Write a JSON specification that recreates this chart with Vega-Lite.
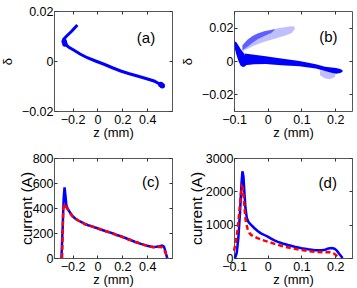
{
  "$schema": "https://vega.github.io/schema/vega-lite/v6.json",
  "padding": {"left": 0, "top": 4, "right": 0, "bottom": 0},
  "background": "white",
  "config": {
    "font": "Liberation Sans",
    "view": {"stroke": "#555", "strokeWidth": 1},
    "axis": {"domain": false, "grid": false, "tickColor": "#333", "tickSize": -3, "tickWidth": 1, "labelFontSize": 12.5, "labelColor": "#000", "titleColor": "#000", "titleFontWeight": "normal", "labelFlush": false, "labelOverlap": false},
    "axisX": {"labelPadding": 5, "titleFontSize": 13, "titlePadding": 1},
    "axisY": {"labelPadding": 4, "titleFontSize": 15.5, "titlePadding": 3},
    "text": {"font": "Liberation Sans"}
  },
  "columns": 2,
  "spacing": {"row": 47, "column": 62},
  "bounds": "flush",
  "datasets": {
    "a_line": [
      {"i": 0, "z": -0.162, "delta": 0.0144},
      {"i": 1, "z": -0.21, "delta": 0.0118},
      {"i": 2, "z": -0.25, "delta": 0.0099},
      {"i": 3, "z": -0.272, "delta": 0.0087},
      {"i": 4, "z": -0.27, "delta": 0.0075},
      {"i": 5, "z": -0.255, "delta": 0.0065},
      {"i": 6, "z": -0.23, "delta": 0.0055},
      {"i": 7, "z": -0.189, "delta": 0.0043},
      {"i": 8, "z": -0.14, "delta": 0.0028},
      {"i": 9, "z": -0.082, "delta": 0.0013},
      {"i": 10, "z": -0.016, "delta": 0.0},
      {"i": 11, "z": 0.053, "delta": -0.0013},
      {"i": 12, "z": 0.12, "delta": -0.0027},
      {"i": 13, "z": 0.187, "delta": -0.004},
      {"i": 14, "z": 0.25, "delta": -0.005},
      {"i": 15, "z": 0.321, "delta": -0.006},
      {"i": 16, "z": 0.39, "delta": -0.007},
      {"i": 17, "z": 0.455, "delta": -0.008},
      {"i": 18, "z": 0.5, "delta": -0.0092},
      {"i": 19, "z": 0.522, "delta": -0.01}
    ],
    "a_blob": [
      {"z": 0.522, "delta": -0.0099},
      {"z": 0.51, "delta": -0.0094},
      {"z": -0.268, "delta": 0.0078},
      {"z": -0.262, "delta": 0.0068}
    ],
    "b_arm": [
      {"z": -0.075, "top": 0.0095, "bot": 0.006},
      {"z": -0.06, "top": 0.0128, "bot": 0.0072},
      {"z": -0.045, "top": 0.015, "bot": 0.0088},
      {"z": -0.03, "top": 0.0165, "bot": 0.01},
      {"z": -0.01, "top": 0.0178, "bot": 0.0115},
      {"z": 0.01, "top": 0.0188, "bot": 0.0128},
      {"z": 0.03, "top": 0.0196, "bot": 0.014},
      {"z": 0.05, "top": 0.0203, "bot": 0.0152},
      {"z": 0.07, "top": 0.0208, "bot": 0.0166},
      {"z": 0.08, "top": 0.0205, "bot": 0.019}
    ],
    "b_armcore": [
      {"z": -0.075, "top": 0.0095, "bot": 0.0065},
      {"z": -0.06, "top": 0.0128, "bot": 0.0085},
      {"z": -0.045, "top": 0.015, "bot": 0.011},
      {"z": -0.03, "top": 0.0165, "bot": 0.013},
      {"z": -0.01, "top": 0.0178, "bot": 0.015},
      {"z": 0.01, "top": 0.0186, "bot": 0.0168},
      {"z": 0.02, "top": 0.019, "bot": 0.0184}
    ],
    "b_band": [
      {"z": -0.068, "top": 0.0045, "bot": -0.0025},
      {"z": -0.04, "top": 0.0038, "bot": -0.002},
      {"z": -0.006, "top": 0.0028, "bot": -0.0018},
      {"z": 0.04, "top": 0.0015, "bot": -0.0025},
      {"z": 0.094, "top": 0.0, "bot": -0.0032},
      {"z": 0.143, "top": -0.002, "bot": -0.0045},
      {"z": 0.17, "top": -0.0035, "bot": -0.006},
      {"z": 0.183, "top": -0.0038, "bot": -0.0068},
      {"z": 0.203, "top": -0.0042, "bot": -0.0076},
      {"z": 0.215, "top": -0.0048, "bot": -0.0072},
      {"z": 0.222, "top": -0.0055, "bot": -0.0065}
    ],
    "b_leftblob": [
      {"delta": 0.0115, "z1": -0.0975, "z2": -0.094},
      {"delta": 0.0095, "z1": -0.098, "z2": -0.087},
      {"delta": 0.007, "z1": -0.097, "z2": -0.08},
      {"delta": 0.0045, "z1": -0.094, "z2": -0.07},
      {"delta": 0.002, "z1": -0.09, "z2": -0.064},
      {"delta": -0.0005, "z1": -0.086, "z2": -0.062},
      {"delta": -0.0025, "z1": -0.081, "z2": -0.064},
      {"delta": -0.0035, "z1": -0.076, "z2": -0.069}
    ],
    "b_sparse": [
      {"z": 0.155, "top": -0.0055, "bot": -0.0085},
      {"z": 0.17, "top": -0.006, "bot": -0.0105},
      {"z": 0.185, "top": -0.0065, "bot": -0.011},
      {"z": 0.2, "top": -0.007, "bot": -0.0095}
    ],
    "c_blue": [
      {"z": -0.29, "current": 0}, {"z": -0.28, "current": 250}, {"z": -0.272, "current": 480},
      {"z": -0.265, "current": 565}, {"z": -0.258, "current": 500}, {"z": -0.25, "current": 420},
      {"z": -0.24, "current": 395}, {"z": -0.225, "current": 370}, {"z": -0.2, "current": 335},
      {"z": -0.175, "current": 312}, {"z": -0.15, "current": 298}, {"z": -0.125, "current": 285},
      {"z": -0.1, "current": 272}, {"z": -0.075, "current": 262}, {"z": -0.05, "current": 255},
      {"z": -0.025, "current": 246}, {"z": 0, "current": 238}, {"z": 0.025, "current": 228},
      {"z": 0.05, "current": 220}, {"z": 0.075, "current": 212}, {"z": 0.1, "current": 205},
      {"z": 0.125, "current": 196}, {"z": 0.15, "current": 186}, {"z": 0.175, "current": 178},
      {"z": 0.2, "current": 170}, {"z": 0.225, "current": 160}, {"z": 0.25, "current": 150},
      {"z": 0.275, "current": 140}, {"z": 0.3, "current": 130}, {"z": 0.325, "current": 122},
      {"z": 0.35, "current": 113}, {"z": 0.375, "current": 105}, {"z": 0.4, "current": 98},
      {"z": 0.425, "current": 92}, {"z": 0.45, "current": 88}, {"z": 0.475, "current": 90},
      {"z": 0.5, "current": 95}, {"z": 0.52, "current": 100}, {"z": 0.535, "current": 92},
      {"z": 0.545, "current": 60}, {"z": 0.555, "current": 20}, {"z": 0.562, "current": 0}
    ],
    "c_red": [
      {"z": -0.285, "current": 0}, {"z": -0.28, "current": 200}, {"z": -0.276, "current": 400},
      {"z": -0.268, "current": 415}, {"z": -0.258, "current": 392}, {"z": -0.25, "current": 405},
      {"z": -0.24, "current": 390}, {"z": -0.225, "current": 365}, {"z": -0.2, "current": 332},
      {"z": -0.175, "current": 314}, {"z": -0.15, "current": 296}, {"z": -0.125, "current": 287},
      {"z": -0.1, "current": 270}, {"z": -0.075, "current": 264}, {"z": -0.05, "current": 253},
      {"z": -0.025, "current": 247}, {"z": 0, "current": 236}, {"z": 0.025, "current": 230},
      {"z": 0.05, "current": 218}, {"z": 0.075, "current": 213}, {"z": 0.1, "current": 203},
      {"z": 0.125, "current": 197}, {"z": 0.15, "current": 184}, {"z": 0.175, "current": 179},
      {"z": 0.2, "current": 168}, {"z": 0.225, "current": 161}, {"z": 0.25, "current": 148},
      {"z": 0.275, "current": 141}, {"z": 0.3, "current": 128}, {"z": 0.325, "current": 123},
      {"z": 0.35, "current": 111}, {"z": 0.375, "current": 106}, {"z": 0.4, "current": 96},
      {"z": 0.425, "current": 92}, {"z": 0.45, "current": 87}, {"z": 0.475, "current": 88},
      {"z": 0.5, "current": 89}, {"z": 0.52, "current": 85}, {"z": 0.535, "current": 70},
      {"z": 0.55, "current": 35}, {"z": 0.565, "current": 0}
    ],
    "d_blue": [
      {"z": -0.097, "current": 0}, {"z": -0.092, "current": 150}, {"z": -0.087, "current": 600},
      {"z": -0.082, "current": 1400}, {"z": -0.078, "current": 2200}, {"z": -0.075, "current": 2600},
      {"z": -0.072, "current": 2450}, {"z": -0.069, "current": 1950}, {"z": -0.066, "current": 1500},
      {"z": -0.062, "current": 1200}, {"z": -0.057, "current": 1080}, {"z": -0.05, "current": 1000},
      {"z": -0.04, "current": 900}, {"z": -0.03, "current": 810}, {"z": -0.02, "current": 740},
      {"z": -0.01, "current": 690}, {"z": 0, "current": 640}, {"z": 0.01, "current": 580},
      {"z": 0.02, "current": 530}, {"z": 0.03, "current": 485}, {"z": 0.044, "current": 435},
      {"z": 0.06, "current": 390}, {"z": 0.08, "current": 340}, {"z": 0.1, "current": 295},
      {"z": 0.12, "current": 260}, {"z": 0.14, "current": 235}, {"z": 0.16, "current": 232},
      {"z": 0.17, "current": 250}, {"z": 0.18, "current": 285}, {"z": 0.19, "current": 300},
      {"z": 0.198, "current": 280}, {"z": 0.205, "current": 220}, {"z": 0.212, "current": 130},
      {"z": 0.218, "current": 50}, {"z": 0.222, "current": 0}
    ],
    "d_red": [
      {"z": -0.1, "current": 220}, {"z": -0.095, "current": 450}, {"z": -0.09, "current": 800},
      {"z": -0.085, "current": 1300}, {"z": -0.08, "current": 1850}, {"z": -0.077, "current": 2150},
      {"z": -0.074, "current": 2100}, {"z": -0.071, "current": 1800}, {"z": -0.068, "current": 1400},
      {"z": -0.065, "current": 1100}, {"z": -0.06, "current": 880}, {"z": -0.055, "current": 760},
      {"z": -0.05, "current": 700}, {"z": -0.04, "current": 640}, {"z": -0.03, "current": 595},
      {"z": -0.02, "current": 555}, {"z": -0.01, "current": 520}, {"z": 0, "current": 490},
      {"z": 0.02, "current": 425}, {"z": 0.044, "current": 355}, {"z": 0.07, "current": 295},
      {"z": 0.094, "current": 250}, {"z": 0.12, "current": 210}, {"z": 0.143, "current": 185},
      {"z": 0.165, "current": 175}, {"z": 0.183, "current": 175}, {"z": 0.195, "current": 140},
      {"z": 0.203, "current": 80}, {"z": 0.21, "current": 20}, {"z": 0.213, "current": 0}
    ]
  },
  "concat": [
    {
      "width": 118, "height": 100,
      "layer": [
        {
          "data": {"name": "a_line"},
          "mark": {"type": "line", "color": "#0000ff", "strokeWidth": 3},
          "encoding": {
            "x": {"field": "z", "type": "quantitative", "scale": {"domain": [-0.35, 0.6], "nice": false, "zero": false}, "axis": {"orient": "bottom", "values": [-0.2, 0, 0.2, 0.4], "format": ".2~f", "title": "z (mm)"}},
            "y": {"field": "delta", "type": "quantitative", "scale": {"domain": [-0.02, 0.02], "nice": false, "zero": false}, "axis": {"orient": "left", "values": [-0.02, 0, 0.02], "format": ".2~f", "title": "δ", "titleFontSize": 13, "titlePadding": 7}},
            "order": {"field": "i"}
          }
        },
        {
          "data": {"name": "a_blob"},
          "mark": {"type": "circle", "color": "#0000ff", "opacity": 1, "size": 30},
          "encoding": {
            "x": {"field": "z", "type": "quantitative", "scale": {"domain": [-0.35, 0.6], "nice": false, "zero": false}, "axis": null},
            "y": {"field": "delta", "type": "quantitative", "scale": {"domain": [-0.02, 0.02], "nice": false, "zero": false}, "axis": null}
          }
        },
        {
          "data": {"values": [{"z": 0.391, "delta": 0.0093, "t": "(a)"}]},
          "mark": {"type": "text", "fontSize": 15, "color": "#000"},
          "encoding": {
            "x": {"field": "z", "type": "quantitative", "scale": {"domain": [-0.35, 0.6], "nice": false, "zero": false}, "axis": {"orient": "top", "values": [-0.2, 0, 0.2, 0.4], "labels": false, "title": null}},
            "y": {"field": "delta", "type": "quantitative", "scale": {"domain": [-0.02, 0.02], "nice": false, "zero": false}, "axis": {"orient": "right", "values": [-0.02, 0, 0.02], "labels": false, "title": null}},
            "text": {"field": "t"}
          }
        }
      ],
      "resolve": {"axis": {"x": "independent", "y": "independent"}}
    },
    {
      "width": 118, "height": 100,
      "layer": [
        {
          "data": {"name": "b_arm"},
          "mark": {"type": "area", "color": "#0000ff", "opacity": 0.25},
          "encoding": {
            "x": {"field": "z", "type": "quantitative", "scale": {"domain": [-0.1, 0.25], "nice": false, "zero": false}, "axis": {"orient": "bottom", "values": [-0.1, 0, 0.1, 0.2], "format": ".2~f", "title": "z (mm)"}},
            "y": {"field": "top", "type": "quantitative", "scale": {"domain": [-0.03, 0.03], "nice": false, "zero": false}, "axis": {"orient": "left", "values": [-0.02, 0, 0.02], "format": ".2~f", "title": "δ", "titleFontSize": 13, "titlePadding": 7}},
            "y2": {"field": "bot"}
          }
        },
        {
          "data": {"name": "b_armcore"},
          "mark": {"type": "area", "color": "#0000ff", "opacity": 0.5},
          "encoding": {
            "x": {"field": "z", "type": "quantitative", "scale": {"domain": [-0.1, 0.25], "nice": false, "zero": false}, "axis": null},
            "y": {"field": "top", "type": "quantitative", "scale": {"domain": [-0.03, 0.03], "nice": false, "zero": false}, "axis": null},
            "y2": {"field": "bot"}
          }
        },
        {
          "data": {"name": "b_sparse"},
          "mark": {"type": "area", "color": "#0000ff", "opacity": 0.25},
          "encoding": {
            "x": {"field": "z", "type": "quantitative", "scale": {"domain": [-0.1, 0.25], "nice": false, "zero": false}, "axis": null},
            "y": {"field": "top", "type": "quantitative", "scale": {"domain": [-0.03, 0.03], "nice": false, "zero": false}, "axis": null},
            "y2": {"field": "bot"}
          }
        },
        {
          "data": {"name": "b_band"},
          "mark": {"type": "area", "color": "#0000ff", "opacity": 1},
          "encoding": {
            "x": {"field": "z", "type": "quantitative", "scale": {"domain": [-0.1, 0.25], "nice": false, "zero": false}, "axis": null},
            "y": {"field": "top", "type": "quantitative", "scale": {"domain": [-0.03, 0.03], "nice": false, "zero": false}, "axis": null},
            "y2": {"field": "bot"}
          }
        },
        {
          "data": {"name": "b_leftblob"},
          "mark": {"type": "area", "orient": "horizontal", "color": "#0000ff", "opacity": 1},
          "encoding": {
            "x": {"field": "z1", "type": "quantitative", "scale": {"domain": [-0.1, 0.25], "nice": false, "zero": false}, "axis": null},
            "x2": {"field": "z2"},
            "y": {"field": "delta", "type": "quantitative", "scale": {"domain": [-0.03, 0.03], "nice": false, "zero": false}, "axis": null}
          }
        },
        {
          "data": {"values": [{"z": 0.18, "delta": 0.0144, "t": "(b)"}]},
          "mark": {"type": "text", "fontSize": 15, "color": "#000"},
          "encoding": {
            "x": {"field": "z", "type": "quantitative", "scale": {"domain": [-0.1, 0.25], "nice": false, "zero": false}, "axis": {"orient": "top", "values": [-0.1, 0, 0.1, 0.2], "labels": false, "title": null}},
            "y": {"field": "delta", "type": "quantitative", "scale": {"domain": [-0.03, 0.03], "nice": false, "zero": false}, "axis": {"orient": "right", "values": [-0.02, 0, 0.02], "labels": false, "title": null}},
            "text": {"field": "t"}
          }
        }
      ],
      "resolve": {"axis": {"x": "independent", "y": "independent"}}
    },
    {
      "width": 118, "height": 100,
      "layer": [
        {
          "data": {"name": "c_blue"},
          "mark": {"type": "line", "color": "#0000ff", "strokeWidth": 2.5},
          "encoding": {
            "x": {"field": "z", "type": "quantitative", "scale": {"domain": [-0.35, 0.6], "nice": false, "zero": false}, "axis": {"orient": "bottom", "values": [-0.2, 0, 0.2, 0.4], "format": ".2~f", "title": "z (mm)"}},
            "y": {"field": "current", "type": "quantitative", "scale": {"domain": [0, 800], "nice": false}, "axis": {"orient": "left", "values": [0, 200, 400, 600, 800], "format": ".2~f", "title": "current (A)", "titlePadding": -2}}
          }
        },
        {
          "data": {"name": "c_red"},
          "mark": {"type": "line", "color": "#ff0000", "strokeWidth": 2.5, "strokeDash": [5, 3]},
          "encoding": {
            "x": {"field": "z", "type": "quantitative", "scale": {"domain": [-0.35, 0.6], "nice": false, "zero": false}, "axis": null},
            "y": {"field": "current", "type": "quantitative", "scale": {"domain": [0, 800], "nice": false}, "axis": null}
          }
        },
        {
          "data": {"values": [{"z": 0.428, "current": 608, "t": "(c)"}]},
          "mark": {"type": "text", "fontSize": 15, "color": "#000"},
          "encoding": {
            "x": {"field": "z", "type": "quantitative", "scale": {"domain": [-0.35, 0.6], "nice": false, "zero": false}, "axis": {"orient": "top", "values": [-0.2, 0, 0.2, 0.4], "labels": false, "title": null}},
            "y": {"field": "current", "type": "quantitative", "scale": {"domain": [0, 800], "nice": false}, "axis": {"orient": "right", "values": [0, 200, 400, 600, 800], "labels": false, "title": null}},
            "text": {"field": "t"}
          }
        }
      ],
      "resolve": {"axis": {"x": "independent", "y": "independent"}}
    },
    {
      "width": 118, "height": 100,
      "layer": [
        {
          "data": {"name": "d_blue"},
          "mark": {"type": "line", "color": "#0000ff", "strokeWidth": 2.5},
          "encoding": {
            "x": {"field": "z", "type": "quantitative", "scale": {"domain": [-0.1, 0.25], "nice": false, "zero": false}, "axis": {"orient": "bottom", "values": [-0.1, 0, 0.1, 0.2], "format": ".2~f", "title": "z (mm)"}},
            "y": {"field": "current", "type": "quantitative", "scale": {"domain": [0, 3000], "nice": false}, "axis": {"orient": "left", "values": [0, 1000, 2000, 3000], "format": ".2~f", "title": "current (A)", "titlePadding": 1}}
          }
        },
        {
          "data": {"name": "d_red"},
          "mark": {"type": "line", "color": "#ff0000", "strokeWidth": 2.5, "strokeDash": [5, 3]},
          "encoding": {
            "x": {"field": "z", "type": "quantitative", "scale": {"domain": [-0.1, 0.25], "nice": false, "zero": false}, "axis": null},
            "y": {"field": "current", "type": "quantitative", "scale": {"domain": [0, 3000], "nice": false}, "axis": null}
          }
        },
        {
          "data": {"values": [{"z": 0.178, "current": 2250, "t": "(d)"}]},
          "mark": {"type": "text", "fontSize": 15, "color": "#000"},
          "encoding": {
            "x": {"field": "z", "type": "quantitative", "scale": {"domain": [-0.1, 0.25], "nice": false, "zero": false}, "axis": {"orient": "top", "values": [-0.1, 0, 0.1, 0.2], "labels": false, "title": null}},
            "y": {"field": "current", "type": "quantitative", "scale": {"domain": [0, 3000], "nice": false}, "axis": {"orient": "right", "values": [0, 1000, 2000, 3000], "labels": false, "title": null}},
            "text": {"field": "t"}
          }
        }
      ],
      "resolve": {"axis": {"x": "independent", "y": "independent"}}
    }
  ]
}
